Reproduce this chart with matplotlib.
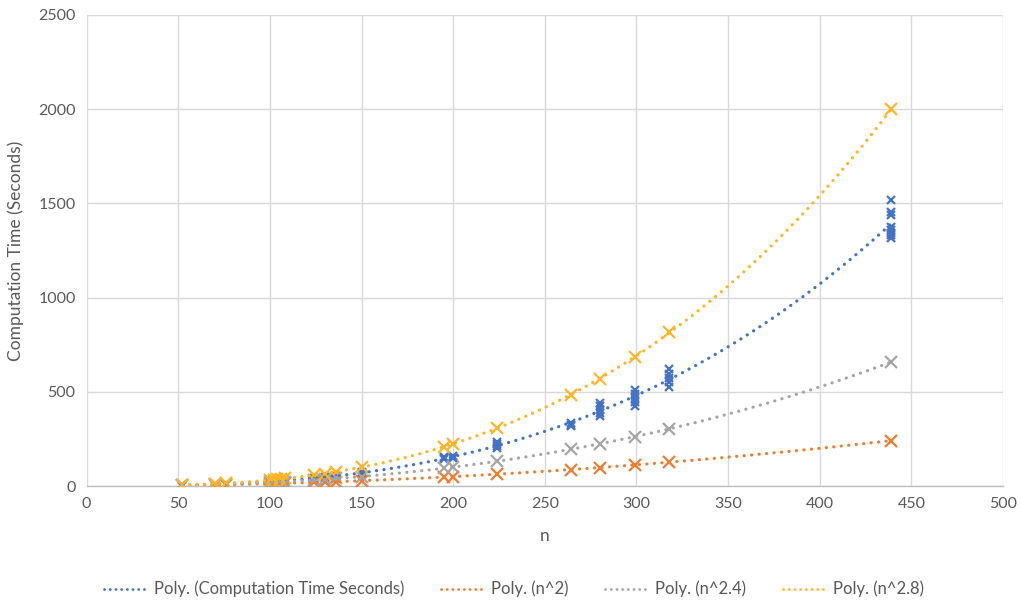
import numpy as np
import matplotlib
matplotlib.use("Agg")
import matplotlib.pyplot as plt
from matplotlib.lines import Line2D

plt.rcParams['font.family'] = ['Lato', 'DejaVu Sans']

# Problem sizes
n_values = [52, 70, 76, 100, 102, 104, 106, 108, 124, 130, 136, 150,
            195, 200, 224, 264, 280, 299, 318, 439]

# Measured computation time (seconds), several runs per problem size
runs = {
    52: [2, 3, 3],
    70: [7, 8],
    76: [10, 11],
    100: [21, 23],
    102: [23],
    104: [24],
    106: [25, 26],
    108: [27],
    124: [39, 41],
    130: [45, 47],
    136: [51, 53],
    150: [66, 69, 72],
    195: [144, 149, 154],
    200: [150, 155, 158],
    224: [200, 212, 225, 236],
    264: [318, 325, 332],
    280: [372, 390, 405, 422, 440],
    299: [422, 445, 465, 488, 510],
    318: [525, 550, 572, 595, 620],
    439: [1316, 1330, 1345, 1360, 1375, 1438, 1454, 1518],
}

# Reference growth curves (scaled)
n2 = [3.4, 6.1, 7.2, 12.5, 13, 13.5, 14, 14.6, 19.2, 21, 23, 28,
      47.5, 50, 63, 87, 98, 112, 126, 241]
n2_4 = [4, 8, 10, 19, 20, 21, 22, 23, 32, 36, 40, 50,
        94, 100, 131, 194, 224, 262, 304, 658]
n2_8 = [5, 12, 15, 32, 34, 36, 38, 40, 58, 66, 75, 100,
        208, 224, 308, 485, 570, 685, 815, 2000]

x_ticks = [0, 50, 100, 150, 200, 250, 300, 350, 400, 450, 500]
y_ticks = [0, 500, 1000, 1500, 2000, 2500]

BLUE = '#4472C4'
ORANGE = '#ED7D31'
GRAY = '#A5A5A5'
GOLD = '#FFB527'
TEXT = '#595959'

fig = plt.figure(figsize=(10.21, 6.0), dpi=100)
ax = fig.add_axes([0.0849, 0.19, 0.8975, 0.785])

time_x = [n for n in n_values for _ in runs[n]]
time_y = [t for n in n_values for t in runs[n]]

series = [
    (time_x, time_y, BLUE, 'Poly. (Computation Time Seconds)', 6),
    (n_values, n2, ORANGE, 'Poly. (n^2)', 8),
    (n_values, n2_4, GRAY, 'Poly. (n^2.4)', 8),
    (n_values, n2_8, GOLD, 'Poly. (n^2.8)', 8),
]

dot_style = dict(linewidth=2.3, dashes=(0.05, 2.3), dash_capstyle='round')

handles = []
for xs, ys, color, label, ms in series:
    xs = np.asarray(xs, dtype=float)
    ys = np.asarray(ys, dtype=float)
    ax.plot(xs, ys, linestyle='none', marker='x', markersize=ms,
            markeredgewidth=1.6, color=color, zorder=3)
    # third-order polynomial trendline
    coef = np.polyfit(xs, ys, 3)
    xx = np.linspace(xs.min(), xs.max(), 300)
    ax.plot(xx, np.polyval(coef, xx), color=color, zorder=4, **dot_style)
    handles.append(Line2D([], [], color=color, label=label,
                          linewidth=2.0, dashes=(0.05, 2.0),
                          dash_capstyle='round'))

ax.set_xlim(0, 500)
ax.set_ylim(0, 2500)
ax.set_xticks(x_ticks)
ax.set_yticks(y_ticks)
ax.grid(True, color='#D9D9D9', linewidth=1.0, zorder=0)
ax.set_axisbelow(True)
for side in ['top', 'right', 'left']:
    ax.spines[side].set_visible(False)
ax.spines['bottom'].set_color('#BFBFBF')
ax.spines['bottom'].set_linewidth(1.0)
ax.tick_params(axis='both', length=0, labelsize=11.5, colors=TEXT, pad=8)

ax.set_xlabel('n', fontsize=12.5, color=TEXT, labelpad=12)
ax.set_ylabel('Computation Time (Seconds)', fontsize=12.5, color=TEXT,
              labelpad=10)

fig.legend(handles=handles, loc='center', bbox_to_anchor=(0.503, 0.018),
           ncol=4, frameon=False, fontsize=12, labelcolor=TEXT,
           handlelength=2.7, handletextpad=0.3, columnspacing=2.2)

fig.savefig('out.png', dpi=100, facecolor='white')
